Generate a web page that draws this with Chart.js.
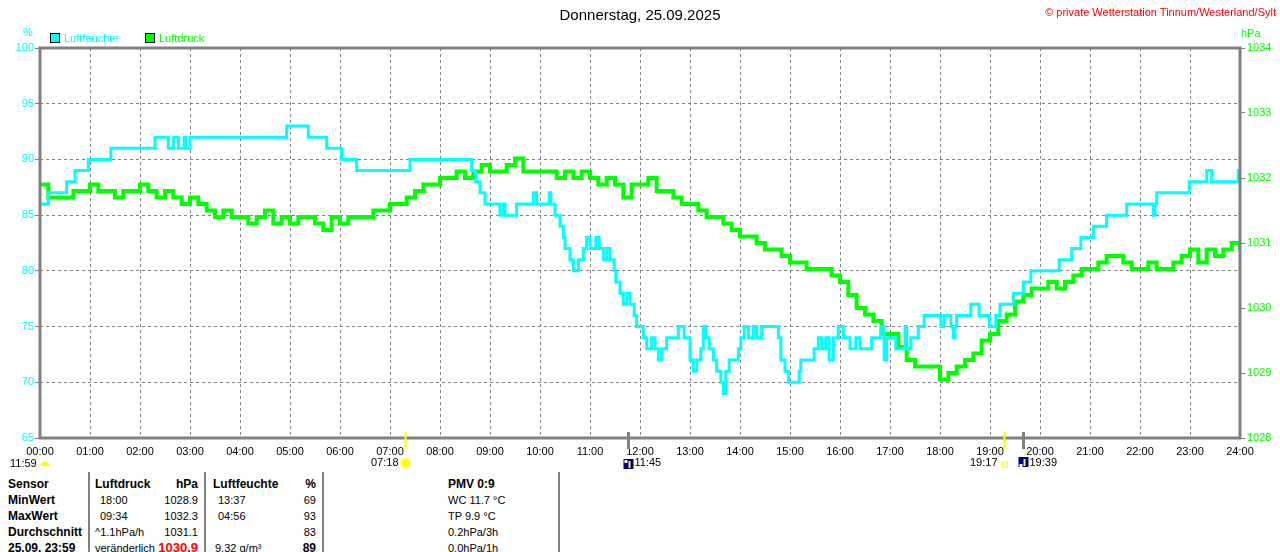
<!DOCTYPE html>
<html>
<head>
<meta charset="utf-8">
<script src="https://cdn.jsdelivr.net/npm/chart.js@4.4.1/dist/chart.umd.min.js"></script>
<style>
  body { margin: 0; background: #fff; font-family: "Liberation Sans", Arial, sans-serif; }
  #wrap { position: relative; width: 1280px; height: 552px; overflow: hidden; }
  #chart { position: absolute; left: 0; top: 0; }
  .t { position: absolute; white-space: pre; font-size: 11px; line-height: 16px; color: #000; }
  .b { font-weight: bold; font-size: 12px; }
  .r { text-align: right; }
  .vl { position: absolute; top: 472px; height: 80px; width: 2px; background: #808080; }
  .box { position: absolute; width: 8px; height: 8px; border: 1px solid #000; }
</style>
</head>
<body>
<div id="wrap">
  <canvas id="chart" width="1280" height="470"></canvas>

  <div class="t" style="left:0;width:1280px;text-align:center;top:5px;font-size:15px;line-height:20px">Donnerstag, 25.09.2025</div>
  <div class="t" style="right:4px;top:4px;line-height:16px;color:#ff0000">© private Wetterstation Tinnum/Westerland/Sylt</div>

  <div class="t" style="left:23px;top:24px;color:#00ffff">%</div>
  <div class="box" style="left:50px;top:33px;background:#00ffff"></div>
  <div class="t" style="left:64px;top:30px;color:#00ffff">Luftfeuchte</div>
  <div class="box" style="left:145px;top:33px;background:#00ff00"></div>
  <div class="t" style="left:159px;top:30px;color:#00ff00">Luftdruck</div>
  <div class="t" style="left:1241px;top:25px;color:#00ff00">hPa</div>

  <!-- Tabelle -->
  <div class="vl" style="left:88px"></div>
  <div class="vl" style="left:204px"></div>
  <div class="vl" style="left:322px"></div>
  <div class="vl" style="left:558px"></div>

  <div class="t b" style="left:8px;top:476px">Sensor</div>
  <div class="t b" style="left:95px;top:476px">Luftdruck</div>
  <div class="t b r" style="right:1082px;top:476px">hPa</div>
  <div class="t b" style="left:213px;top:476px">Luftfeuchte</div>
  <div class="t b r" style="right:964px;top:476px">%</div>
  <div class="t b" style="left:448px;top:476px">PMV 0:9</div>

  <div class="t b" style="left:8px;top:492px">MinWert</div>
  <div class="t" style="left:100px;top:492px">18:00</div>
  <div class="t r" style="right:1082px;top:492px">1028.9</div>
  <div class="t" style="left:218px;top:492px">13:37</div>
  <div class="t r" style="right:964px;top:492px">69</div>
  <div class="t" style="left:448px;top:492px">WC 11.7 °C</div>

  <div class="t b" style="left:8px;top:508px">MaxWert</div>
  <div class="t" style="left:100px;top:508px">09:34</div>
  <div class="t r" style="right:1082px;top:508px">1032.3</div>
  <div class="t" style="left:218px;top:508px">04:56</div>
  <div class="t r" style="right:964px;top:508px">93</div>
  <div class="t" style="left:448px;top:508px">TP 9.9 °C</div>

  <div class="t b" style="left:8px;top:524px">Durchschnitt</div>
  <div class="t" style="left:95px;top:524px">^1.1hPa/h</div>
  <div class="t r" style="right:1082px;top:524px">1031.1</div>
  <div class="t r" style="right:964px;top:524px">83</div>
  <div class="t" style="left:448px;top:524px">0.2hPa/3h</div>

  <div class="t b" style="left:8px;top:540px">25.09. 23:59</div>
  <div class="t" style="left:95px;top:540px">veränderlich</div>
  <div class="t b r" style="right:1082px;top:540px;font-size:13px;color:#ff0000">1030.9</div>
  <div class="t" style="left:215px;top:540px">9.32 g/m³</div>
  <div class="t b r" style="right:964px;top:540px">89</div>
  <div class="t" style="left:448px;top:540px">0.0hPa/1h</div>
</div>

<script>
// Luftfeuchte: Zeitpunkte (Minuten seit 00:00), an denen sich der Wert ändert
const humTimes = [
  0, 10, 32, 42, 58, 85, 138, 154, 160, 166,
  173, 175, 180, 296, 322, 344, 362, 380, 444, 518,
  523, 528, 534, 552, 556, 558, 572, 592, 596, 611,
  613, 618, 624, 628, 630, 636, 640, 646, 652, 656,
  660, 667, 671, 676, 680, 684, 689, 691, 696, 700,
  704, 708, 713, 716, 724, 728, 734, 738, 742, 746,
  752, 766, 773, 780, 784, 788, 793, 796, 799, 803,
  808, 812, 817, 820, 823, 827, 838, 841, 845, 850,
  856, 860, 866, 886, 889, 894, 898, 911, 913, 929,
  934, 938, 943, 947, 952, 958, 964, 972, 979, 984,
  998, 1009, 1013, 1016, 1027, 1038, 1040, 1045, 1054, 1061,
  1081, 1085, 1093, 1096, 1098, 1100, 1117, 1127, 1139, 1147,
  1152, 1168, 1180, 1189, 1223, 1238, 1249, 1264, 1280, 1304,
  1336, 1338, 1340, 1379, 1400, 1406, 1438, 1440
];
const humValues = [
  86, 87, 88, 89, 90, 91, 92, 91, 92, 91,
  92, 91, 92, 93, 92, 91, 90, 89, 90, 89,
  88, 87, 86, 85, 86, 85, 86, 87, 86, 87,
  86, 85, 84, 83, 82, 81, 80, 81, 82, 83,
  82, 83, 82, 81, 82, 81, 80, 79, 78, 77,
  78, 77, 76, 75, 74, 73, 74, 73, 72, 73,
  74, 75, 74, 72, 71, 72, 73, 75, 74, 73,
  72, 71, 70, 69, 71, 72, 73, 74, 75, 74,
  75, 74, 75, 74, 72, 71, 70, 71, 72, 73,
  74, 73, 74, 72, 74, 75, 74, 73, 74, 73,
  74, 75, 72, 74, 73, 75, 73, 74, 75, 76,
  75, 76, 75, 74, 75, 76, 77, 76, 75, 76,
  77, 78, 79, 80, 81, 82, 83, 84, 85, 86,
  85, 86, 87, 88, 89, 88, 89, 89
];

// Luftdruck alle 10 Minuten (hPa)
const pressValues = [
  1031.9, 1031.7, 1031.7, 1031.7, 1031.8, 1031.8, 1031.9, 1031.8, 1031.8, 1031.7,
  1031.8, 1031.8, 1031.9, 1031.8, 1031.7, 1031.8, 1031.7, 1031.6, 1031.7, 1031.6,
  1031.5, 1031.4, 1031.5, 1031.4, 1031.4, 1031.3, 1031.4, 1031.5, 1031.3, 1031.4,
  1031.3, 1031.4, 1031.4, 1031.3, 1031.2, 1031.4, 1031.3, 1031.4, 1031.4, 1031.4,
  1031.5, 1031.5, 1031.6, 1031.6, 1031.7, 1031.8, 1031.9, 1031.9, 1032.0, 1032.0,
  1032.1, 1032.0, 1032.1, 1032.2, 1032.1, 1032.1, 1032.2, 1032.3, 1032.1, 1032.1,
  1032.1, 1032.1, 1032.0, 1032.1, 1032.0, 1032.1, 1032.0, 1031.9, 1032.0, 1031.9,
  1031.7, 1031.9, 1031.9, 1032.0, 1031.8, 1031.8, 1031.7, 1031.6, 1031.6, 1031.5,
  1031.4, 1031.4, 1031.3, 1031.2, 1031.1, 1031.1, 1031.0, 1030.9, 1030.9, 1030.8,
  1030.7, 1030.7, 1030.6, 1030.6, 1030.6, 1030.5, 1030.4, 1030.2, 1030.0, 1029.9,
  1029.8, 1029.6, 1029.6, 1029.4, 1029.2, 1029.1, 1029.1, 1029.1, 1028.9, 1029.0,
  1029.1, 1029.2, 1029.3, 1029.5, 1029.6, 1029.8, 1029.9, 1030.1, 1030.2, 1030.3,
  1030.3, 1030.4, 1030.3, 1030.4, 1030.5, 1030.6, 1030.6, 1030.7, 1030.8, 1030.8,
  1030.7, 1030.6, 1030.6, 1030.7, 1030.6, 1030.6, 1030.7, 1030.8, 1030.9, 1030.7,
  1030.9, 1030.8, 1030.9, 1031.0, 1030.9
];
const pressStep = 10; // Minuten

// Sonne / Mond unter der Zeitachse
const eventTimes = ['07:18', '11:45', '19:17', '19:39'];
const eventKinds = ['sunrise', 'moonrise', 'sunset', 'moonset'];
const dayLength = '11:59';

const toMin = (s) => { const [h, m] = s.split(':').map(Number); return h * 60 + m; };
const hhmm = (v) => String(Math.round(v / 60)).padStart(2, '0') + ':00';

const GRAY = '#808080';
const CYAN = '#00ffff';
const GREEN = '#00ff00';
const FONT = '"Liberation Sans", Arial, sans-serif';

const framePlugin = {
  id: 'frame',
  afterDatasetsDraw(chart) {
    const { ctx, chartArea: a } = chart;
    ctx.save();
    ctx.strokeStyle = GRAY;
    ctx.lineWidth = 3;
    ctx.strokeRect(a.left, a.top, a.right - a.left, a.bottom - a.top);
    ctx.restore();
  },
  afterDraw(chart) {
    const { ctx, chartArea: a } = chart;
    const x = chart.scales.x;
    const yMark = 463;
    ctx.save();
    ctx.font = '11px ' + FONT;
    ctx.textBaseline = 'middle';

    // Tageslänge links
    ctx.fillStyle = '#000';
    ctx.textAlign = 'left';
    ctx.fillText(dayLength, 10, yMark + 1);
    ctx.fillStyle = '#ffff00';
    ctx.beginPath();
    ctx.arc(45, yMark + 3, 4.5, Math.PI, 0);
    ctx.fill();

    eventTimes.forEach((t, i) => {
      const px = Math.round(x.getPixelForValue(toMin(t))) + 0.5;
      const kind = eventKinds[i];
      const isSun = kind.startsWith('sun');

      // Markierung an der Achse
      ctx.strokeStyle = isSun ? '#ffff00' : GRAY;
      ctx.lineWidth = isSun ? 2 : 3;
      ctx.beginPath();
      ctx.moveTo(px, a.bottom - 6);
      ctx.lineTo(px, a.bottom + 11);
      ctx.stroke();

      ctx.fillStyle = '#000';
      if (kind === 'sunrise') {
        ctx.fillStyle = '#ffff99';
        ctx.beginPath(); ctx.arc(px, yMark, 6, 0, Math.PI * 2); ctx.fill();
        ctx.fillStyle = '#ffff00';
        ctx.beginPath(); ctx.arc(px, yMark, 4, 0, Math.PI * 2); ctx.fill();
        ctx.fillStyle = '#000';
        ctx.textAlign = 'right';
        ctx.fillText(t, px - 7, yMark);
      } else if (kind === 'sunset') {
        ctx.strokeStyle = '#ffff00';
        ctx.lineWidth = 1;
        ctx.strokeRect(px - 2, yMark - 1, 5, 5);
        ctx.textAlign = 'right';
        ctx.fillText(t, px - 7, yMark);
      } else {
        const top = kind === 'moonrise' ? yMark - 4 : yMark - 6;
        ctx.fillStyle = '#000080';
        ctx.fillRect(px - 5, top, 10, 10);
        ctx.fillStyle = '#ffffff';
        ctx.fillRect(px - 4, kind === 'moonrise' ? top + 1 : top + 7, 3, 3);
        ctx.strokeStyle = '#ffff00';
        ctx.lineWidth = 2;
        ctx.beginPath();
        ctx.moveTo(px + 1, top + 2);
        ctx.lineTo(px + 1, top + 9);
        ctx.stroke();
        ctx.fillStyle = '#000';
        ctx.textAlign = 'left';
        ctx.fillText(t, px + 6, yMark);
      }
    });
    ctx.restore();
  }
};

new Chart(document.getElementById('chart'), {
  type: 'line',
  data: {
    datasets: [
      {
        label: 'Luftfeuchte',
        data: humTimes.map((t, i) => ({ x: t, y: humValues[i] })),
        yAxisID: 'y',
        borderColor: CYAN,
        borderWidth: 3,
        stepped: true,
        pointRadius: 0,
        fill: false
      },
      {
        label: 'Luftdruck',
        data: pressValues.map((v, i) => ({ x: i * pressStep, y: v })),
        yAxisID: 'y1',
        borderColor: GREEN,
        borderWidth: 4,
        stepped: true,
        pointRadius: 0,
        fill: false
      }
    ]
  },
  options: {
    responsive: false,
    animation: false,
    layout: { padding: { top: 48, left: 0, right: 0, bottom: 0 } },
    plugins: {
      legend: { display: false },
      title: { display: false },
      tooltip: { enabled: false }
    },
    scales: {
      x: {
        type: 'linear',
        min: 0,
        max: 1440,
        border: { display: false, dash: [3, 3] },
        grid: { color: GRAY, drawTicks: false },
        ticks: {
          stepSize: 60,
          autoSkip: false,
          maxRotation: 0,
          padding: 7,
          color: '#000',
          font: { family: FONT, size: 11 },
          callback: (v) => hhmm(v)
        },
        afterFit: (s) => { s.height = 32; }
      },
      y: {
        position: 'left',
        min: 65,
        max: 100,
        border: { display: false, dash: [3, 3] },
        grid: { color: GRAY, tickLength: 5, tickColor: GRAY, tickBorderDash: [] },
        ticks: { stepSize: 5, padding: 1, color: CYAN, font: { family: FONT, size: 11 }, callback: (v) => String(v) },
        afterFit: (s) => { s.width = 40; }
      },
      y1: {
        position: 'right',
        min: 1028,
        max: 1034,
        border: { display: false },
        grid: { drawOnChartArea: false, tickLength: 5, color: GRAY },
        ticks: { stepSize: 1, padding: 2, color: GREEN, font: { family: FONT, size: 11 }, callback: (v) => String(v) },
        afterFit: (s) => { s.width = 40; }
      }
    }
  },
  plugins: [framePlugin]
});
</script>
</body>
</html>
